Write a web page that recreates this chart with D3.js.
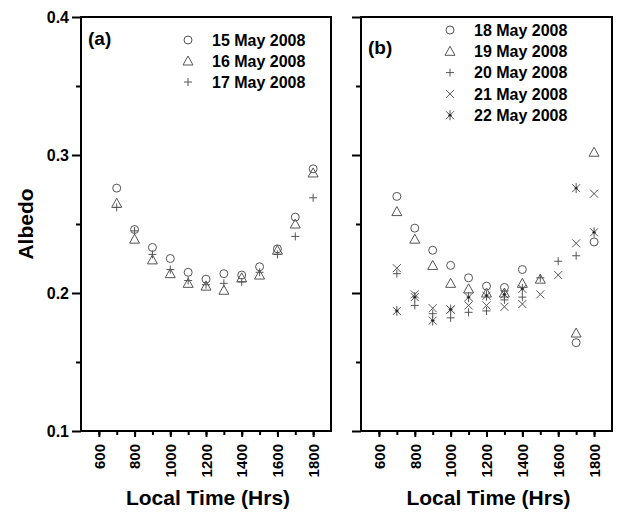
<!DOCTYPE html>
<html>
<head>
<meta http-equiv="Content-Type" content="text/html; charset=UTF-8">
<style>
body { margin: 0; background: #fff; }
text { font-family: "Liberation Sans", Arial, sans-serif; font-weight: bold; }
</style>
</head>
<body>
<div class="container"></div>
<script src="https://cdn.jsdelivr.net/npm/d3@7"></script>
<script>

var width = 619;
var height = 515;

// local time (hrs) of each reading
var times = [700, 800, 900, 1000, 1100, 1200, 1300, 1400, 1500, 1600, 1700, 1800];

// panel (a)
var datesA = ["15 May 2008", "16 May 2008", "17 May 2008"];
var may15 = [0.276, 0.246, 0.233, 0.225, 0.215, 0.210, 0.214, 0.213, 0.219, 0.232, 0.255, 0.290];
var may16 = [0.265, 0.239, 0.224, 0.214, 0.207, 0.205, 0.202, 0.211, 0.213, 0.231, 0.250, 0.287];
var may17 = [0.262, 0.245, 0.228, 0.217, 0.209, 0.206, 0.207, 0.208, 0.215, 0.228, 0.241, 0.269];

// panel (b), null = no reading
var datesB = ["18 May 2008", "19 May 2008", "20 May 2008", "21 May 2008", "22 May 2008"];
var may18 = [0.270, 0.247, 0.231, 0.220, 0.211, 0.205, 0.204, 0.217, null, null, 0.164, 0.237];
var may19 = [0.259, 0.239, 0.220, 0.207, 0.203, 0.200, 0.200, 0.207, 0.210, null, 0.171, 0.302];
var may20 = [0.214, 0.191, 0.185, 0.182, 0.186, 0.187, 0.195, 0.197, 0.211, 0.223, 0.227, null];
var may21 = [0.218, 0.199, 0.189, 0.188, 0.191, 0.191, 0.190, 0.192, 0.199, 0.213, 0.236, 0.272];
var may22 = [0.187, 0.197, 0.180, 0.188, 0.197, 0.198, 0.199, 0.203, null, null, 0.276, 0.244];

var yTicks = [0.1, 0.2, 0.3, 0.4];
var xTicks = [600, 800, 1000, 1200, 1400, 1600, 1800];

var symColor = "#555";

var svg = d3.select(".container")
            .append("svg")
                .attr("width", width)
                .attr("height", height);

var y = d3.scaleLinear().domain([0.1, 0.4]).range([431, 17]);

// draw one marker shape centred on 0,0
function drawSymbol(g, kind) {
    if (kind === "circle") {
        g.append("circle").attr("r", 4).attr("fill", "none");
    } else if (kind === "triangle") {
        g.append("path").attr("d", "M0,-5L5,4L-5,4Z").attr("fill", "none");
    } else if (kind === "plus") {
        g.append("path").attr("d", "M-4,0H4M0,-4V4");
    } else if (kind === "cross") {
        g.append("path").attr("d", "M-4,-4L4,4M4,-4L-4,4");
    } else if (kind === "star") {
        g.append("path").attr("d", "M-4,-4L4,4M4,-4L-4,4M0,-5V5M-2,0H2");
        g.append("circle").attr("r", 1.2).attr("fill", "#222").attr("stroke", "none");
    }
    g.attr("stroke", symColor).attr("stroke-width", 1);
}

function panel(cfg) {
    var x = d3.scaleLinear().domain([500, 1900]).range([cfg.left, cfg.right]);
    var g = svg.append("g");

    // frame
    g.append("rect")
        .attr("x", cfg.left).attr("y", y(0.4))
        .attr("width", cfg.right - cfg.left).attr("height", y(0.1) - y(0.4))
        .attr("fill", "none").attr("stroke", "#000").attr("stroke-width", 2);

    // minor ticks
    g.append("g")
        .attr("transform", "translate(0," + y(0.1) + ")")
        .call(d3.axisBottom(x).tickValues(d3.range(600, 1900, 100)).tickSize(4).tickFormat(""))
        .call(function(a) { a.select(".domain").remove(); a.selectAll("line").attr("stroke-width", 2); });
    g.append("g")
        .attr("transform", "translate(" + cfg.left + ",0)")
        .call(d3.axisLeft(y).tickValues([0.15, 0.25, 0.35]).tickSize(5).tickFormat(""))
        .call(function(a) { a.select(".domain").remove(); a.selectAll("line").attr("stroke-width", 2); });

    // major ticks
    var xa = g.append("g")
        .attr("transform", "translate(0," + y(0.1) + ")")
        .call(d3.axisBottom(x).tickValues(xTicks).tickSize(6).tickPadding(4).tickFormat(d3.format("d")));
    xa.select(".domain").remove();
    xa.selectAll("line").attr("stroke-width", 2);
    xa.selectAll("text")
        .attr("font-size", 15)
        .attr("fill", "#000")
        .attr("text-anchor", "end")
        .attr("transform", "rotate(-90)")
        .attr("x", -13)
        .attr("y", 0)
        .attr("dy", "0.35em");

    var ya = g.append("g")
        .attr("transform", "translate(" + cfg.left + ",0)")
        .call(d3.axisLeft(y).tickValues(yTicks).tickSize(9).tickPadding(3)
              .tickFormat(cfg.yLabels ? d3.format(".1f") : ""));
    ya.select(".domain").remove();
    ya.selectAll("line").attr("stroke-width", 2);
    ya.selectAll("text").attr("font-size", 16).attr("fill", "#000");

    g.append("text")
        .attr("x", (cfg.left + cfg.right) / 2 + 2)
        .attr("y", 505)
        .attr("text-anchor", "middle")
        .attr("font-size", 21)
        .text("Local Time (Hrs)");

    g.append("text")
        .attr("x", cfg.left + 7)
        .attr("y", cfg.tagY)
        .attr("font-size", 19)
        .text(cfg.tag);

    // points
    cfg.series.forEach(function(vals, i) {
        times.forEach(function(t, j) {
            if (vals[j] == null) return;
            var m = g.append("g").attr("transform", "translate(" + x(t) + "," + y(vals[j]) + ")");
            drawSymbol(m, cfg.kinds[i]);
        });
    });

    // legend
    cfg.labels.forEach(function(lab, i) {
        var ly = cfg.legY + i * cfg.legStep;
        var m = g.append("g").attr("transform", "translate(" + cfg.legX + "," + ly + ")");
        drawSymbol(m, cfg.kinds[i]);
        g.append("text")
            .attr("x", cfg.legX + 24)
            .attr("y", ly)
            .attr("dy", "0.35em")
            .attr("font-size", 16)
            .text(lab);
    });
}

panel({
    left: 81, right: 331, yLabels: true, tag: "(a)", tagY: 45,
    series: [may15, may16, may17],
    kinds: ["circle", "triangle", "plus"],
    labels: datesA, legX: 188, legY: 40, legStep: 21
});

panel({
    left: 361, right: 612, yLabels: false, tag: "(b)", tagY: 54,
    series: [may18, may19, may20, may21, may22],
    kinds: ["circle", "triangle", "plus", "cross", "star"],
    labels: datesB, legX: 450, legY: 30, legStep: 21.3
});

svg.append("text")
    .attr("transform", "translate(33,224) rotate(-90)")
    .attr("text-anchor", "middle")
    .attr("font-size", 21)
    .text("Albedo");

</script>
</body>
</html>
